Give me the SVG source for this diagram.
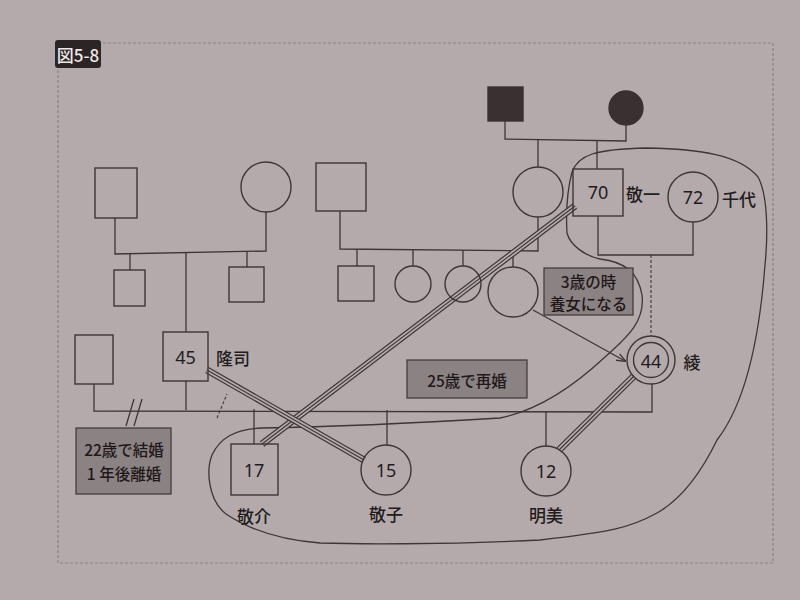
<svg xmlns="http://www.w3.org/2000/svg" width="800" height="600" viewBox="0 0 800 600">
<defs>
<style>
.bg{fill:#b4aaac}
.frame{fill:none;stroke:#8a8183;stroke-width:1.2;stroke-dasharray:3 2}
.n{fill:none;stroke:#3d3536;stroke-width:1.4}
.f{fill:#3a3031;stroke:#3a3031;stroke-width:1.4}
.l{fill:none;stroke:#3d3536;stroke-width:1.3}
.d{fill:none;stroke:#3d3536;stroke-width:1.1;stroke-dasharray:3 2}
.t3a{fill:none;stroke:#3d3536;stroke-width:7}
.t3b{fill:none;stroke:#b4aaac;stroke-width:4.6}
.t3c{fill:none;stroke:#3d3536;stroke-width:1.1}
.box{fill:#8b8284;stroke:#3d3536;stroke-width:1.2}
.txt{font-family:"Noto Sans CJK JP","Noto Sans",sans-serif;fill:#231c1d;font-size:17px;font-weight:500;text-anchor:middle;dominant-baseline:central}
.num{font-family:"Noto Sans","Noto Sans CJK JP",sans-serif;fill:#231c1d;font-size:18px;text-anchor:middle;dominant-baseline:central}
.bt{font-family:"Noto Sans CJK JP","Noto Sans",sans-serif;fill:#1f1819;font-size:15.5px;font-weight:500;text-anchor:middle;dominant-baseline:central}
</style>
<marker id="ah" viewBox="0 0 10 10" refX="9" refY="5" markerWidth="7" markerHeight="7" orient="auto"><path d="M0,1 L10,5 L0,9" fill="none" stroke="#3d3536" stroke-width="1.5"/></marker>
<path id="tr1" d="M575,206 L262,444"/>
<path id="tr2" d="M207,370 L364,460"/>
<path id="tr3" d="M634,376 L559,450"/>
</defs>
<rect class="bg" x="0" y="0" width="800" height="600"/>
<path class="frame" d="M103,43 H773 V563 H58 V68"/>
<g id="fig-label">
<rect x="55" y="40" width="46" height="28" rx="3" fill="#2c2526"/>
<text x="78" y="54.5" font-family="'Noto Sans CJK JP','Noto Sans',sans-serif" font-size="17" font-weight="500" fill="#efe8e8" text-anchor="middle" dominant-baseline="central">図5-8</text>
</g>

<g id="household-boundary">
<path class="l" d="M567,233 C566,215 566,195 572,172 C578,155 595,149 647,148 C700,149 740,155 758,177 C768,195 768,235 765,265 C760,330 748,400 717,440 C700,475 680,500 657,513 C630,528 610,532 540,540 C440,545 350,544 320,543 C280,540 250,530 226,514 C208,500 206,470 212,455 C220,438 235,429 262,428 C320,427 400,424 500,418 C540,410 575,385 605,357 C630,335 645,320 642,295 C638,272 625,262 600,259 C585,256 570,245 567,233 Z"/>
</g>

<g id="connectors">
<path class="l" d="M505,121 V139 L626,141 V125"/>
<path class="l" d="M538,140 V167"/>
<path class="l" d="M597,140 V169"/>
<path class="l" d="M598,216 V255 H693 V222"/>
<path class="d" d="M651,255 V336"/>
<path class="l" d="M115,218 V254 L266,251 V212"/>
<path class="l" d="M130,253 V270"/>
<path class="l" d="M186,252 V332"/>
<path class="l" d="M247,251 V267"/>
<path class="l" d="M340,211 V249 L538,251 V217"/>
<path class="l" d="M357,249 V266"/>
<path class="l" d="M413,250 V266"/>
<path class="l" d="M463,250 V266"/>
<path class="l" d="M513,251 V267"/>
<path class="l" d="M94,384 V411 L652,412 V384"/>
<path class="l" d="M186,381 V410"/>
<path class="l" d="M126,426 L134,399 M134,426 L142,399"/>
<path class="d" d="M217,418 L227,394"/>
<path class="l" d="M254,409 V444"/>
<path class="l" d="M387,410 V445"/>
<path class="l" d="M546,411 V446"/>
<path class="l" d="M533,310 L625,361" marker-end="url(#ah)"/>
<use href="#tr1" class="t3a"/><use href="#tr1" class="t3b"/><use href="#tr1" class="t3c"/>
<use href="#tr2" class="t3a"/><use href="#tr2" class="t3b"/><use href="#tr2" class="t3c"/>
<use href="#tr3" class="t3a"/><use href="#tr3" class="t3b"/><use href="#tr3" class="t3c"/>
</g>

<g id="gf-top"><rect class="f" x="488" y="87" width="35" height="34"/></g>
<g id="gm-top"><circle class="f" cx="626" cy="108" r="17"/></g>

<g id="p-left-m"><rect class="n" x="95" y="168" width="42" height="50"/></g>
<g id="p-left-f"><circle class="n" cx="266" cy="187" r="25"/></g>
<g id="p-mid-m"><rect class="n" x="316" y="163" width="50" height="48"/></g>
<g id="p-mid-f"><circle class="n" cx="538" cy="192" r="25"/></g>

<g id="keiichi"><rect class="n" x="573" y="169" width="50" height="47"/><text class="num" x="598" y="192">70</text><text class="txt" x="643" y="193">敬一</text></g>
<g id="chiyo"><circle class="n" cx="693" cy="197" r="25"/><text class="num" x="693" y="197">72</text><text class="txt" x="739" y="198">千代</text></g>

<g id="sib1"><rect class="n" x="114" y="270" width="31" height="36"/></g>
<g id="sib2"><rect class="n" x="229" y="267" width="35" height="35"/></g>
<g id="sib3"><rect class="n" x="338" y="266" width="36" height="35"/></g>
<g id="sib4"><circle class="n" cx="413" cy="284" r="18"/></g>
<g id="sib5"><circle class="n" cx="463" cy="284" r="18"/></g>
<g id="sib6"><circle class="n" cx="513" cy="292" r="25"/></g>

<g id="ex-wife"><rect class="n" x="75" y="335" width="38" height="49"/></g>
<g id="takashi"><rect class="n" x="163" y="332" width="45" height="49"/><text class="num" x="185.5" y="357">45</text><text class="txt" x="233" y="357">隆司</text></g>
<g id="aya"><circle class="n" cx="651" cy="360" r="24"/><circle class="n" cx="651" cy="360" r="17.5"/><text class="num" x="651" y="361">44</text><text class="txt" x="692" y="361">綾</text></g>

<g id="keisuke"><rect class="n" x="231" y="444" width="47" height="51"/><text class="num" x="254" y="470">17</text><text class="txt" x="254" y="515">敬介</text></g>
<g id="keiko"><circle class="n" cx="386" cy="470" r="25"/><text class="num" x="386" y="470">15</text><text class="txt" x="386" y="513">敬子</text></g>
<g id="akemi"><circle class="n" cx="546" cy="471" r="25"/><text class="num" x="546" y="471">12</text><text class="txt" x="546" y="514">明美</text></g>

<g id="note-divorce"><rect class="box" x="76" y="428" width="95" height="66"/><text class="bt" x="124" y="449">22歳で結婚</text><text class="bt" x="124" y="473">1 年後離婚</text></g>
<g id="note-remarry"><rect class="box" x="407" y="360" width="120" height="38"/><text class="bt" x="467" y="380" font-size="17">25歳で再婚</text></g>
<g id="note-adopt"><rect class="box" x="544" y="268" width="89" height="47"/><text class="bt" x="588.5" y="280.5">3歳の時</text><text class="bt" x="588.5" y="303">養女になる</text></g>
</svg>
